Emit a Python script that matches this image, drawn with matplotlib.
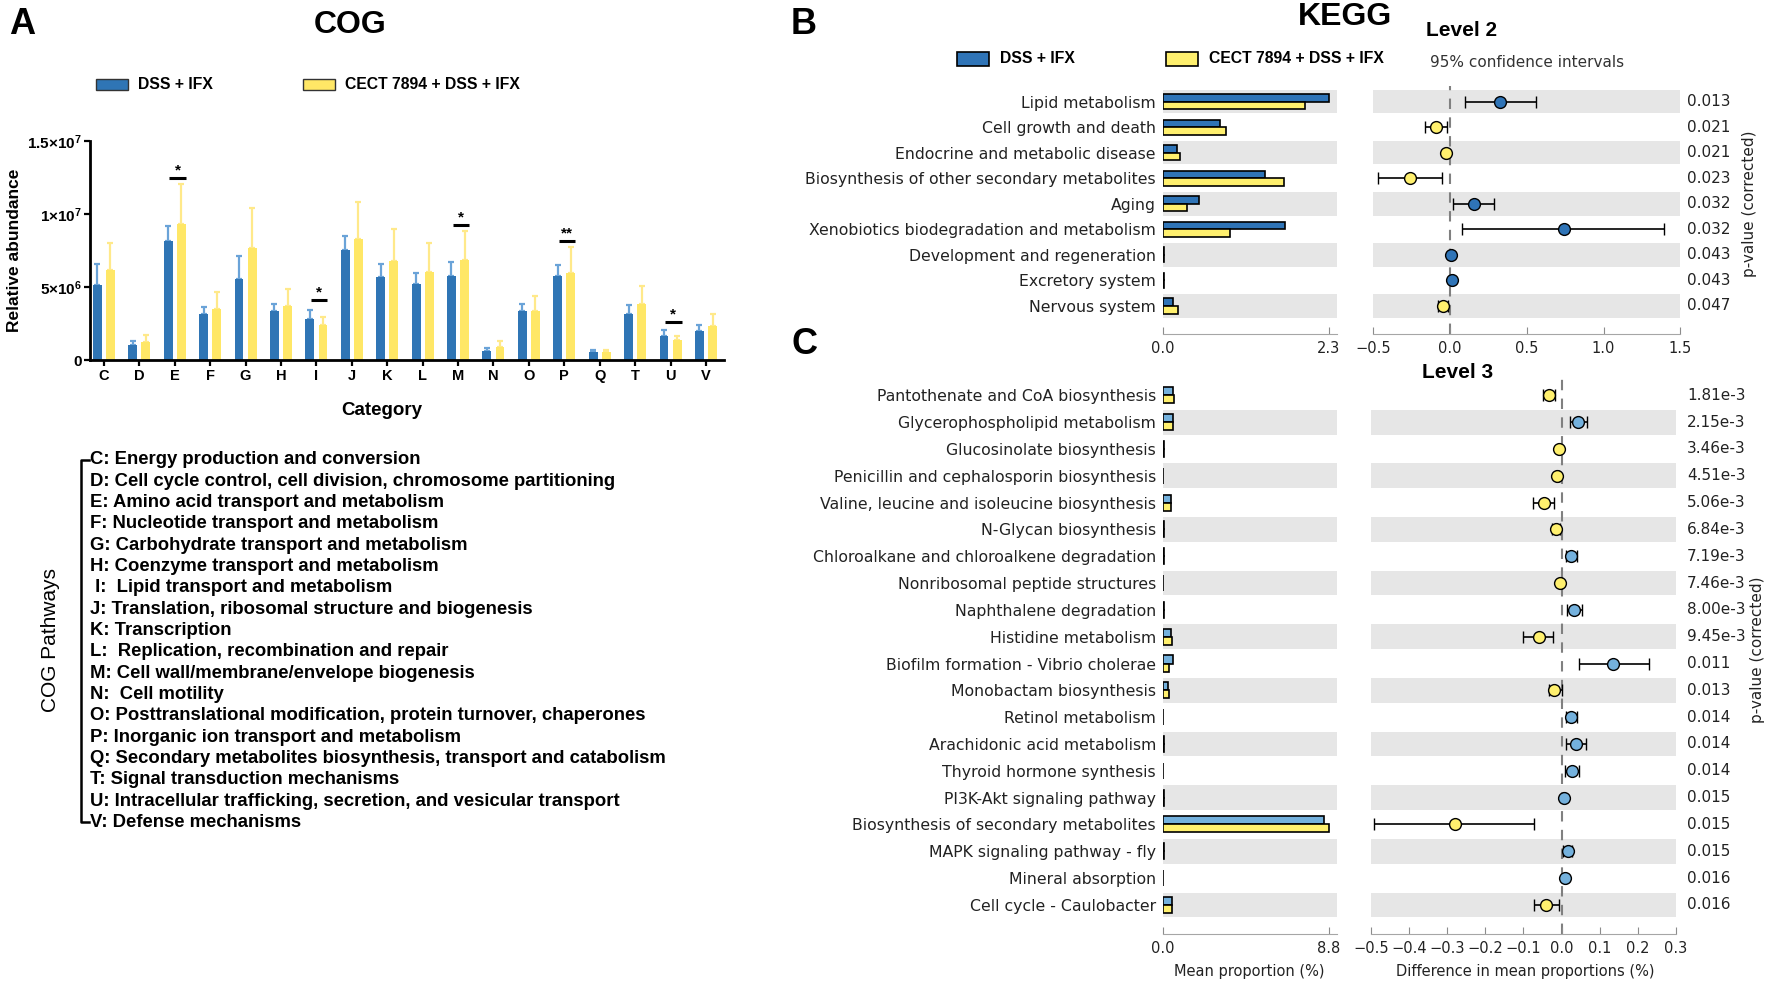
import numpy as np
import matplotlib

matplotlib.use("Agg")
import matplotlib.pyplot as plt
from matplotlib.patches import Rectangle
from matplotlib.lines import Line2D
import matplotlib.transforms as mtransforms

# positions below in a 1568x872 view
W, H = 1568.0, 872.0


def fx(x):
    return x / W


def fy(y):
    return 1 - y / H


ARIAL = ["Liberation Sans", "DejaVu Sans"]
plt.rcParams["mathtext.fontset"] = "custom"
plt.rcParams["mathtext.rm"] = "Liberation Sans:bold"
plt.rcParams["mathtext.bf"] = "Liberation Sans:bold"
plt.rcParams["mathtext.it"] = "Liberation Sans:bold:italic"

# ---------------- A: COG ----------------
cog_cats = list("CDEFGHIJKLMNOPQTUV")
cog_dss = [5.15e6, 1.08e6, 8.17e6, 3.18e6, 5.59e6, 3.41e6, 2.81e6, 7.52e6, 5.71e6,
           5.22e6, 5.75e6, 0.67e6, 3.41e6, 5.75e6, 0.60e6, 3.20e6, 1.70e6, 2.00e6]
cog_dss_sd = [1.43e6, 0.21e6, 1.01e6, 0.46e6, 1.57e6, 0.46e6, 0.64e6, 0.99e6, 0.89e6,
              0.74e6, 0.95e6, 0.18e6, 0.46e6, 0.81e6, 0.14e6, 0.60e6, 0.40e6, 0.40e6]
cog_cect = [6.19e6, 1.27e6, 9.34e6, 3.54e6, 7.69e6, 3.75e6, 2.39e6, 8.33e6, 6.81e6,
            6.07e6, 6.88e6, 0.90e6, 3.41e6, 6.00e6, 0.58e6, 3.89e6, 1.40e6, 2.35e6]
cog_cect_sd = [1.81e6, 0.46e6, 2.76e6, 1.15e6, 2.76e6, 1.15e6, 0.60e6, 2.53e6, 2.21e6,
               1.96e6, 1.98e6, 0.41e6, 0.96e6, 1.78e6, 0.11e6, 1.21e6, 0.30e6, 0.85e6]
# (category, mark, height of the bar line)
cog_sig = [("E", "*", 12.5e6), ("I", "*", 4.14e6), ("M", "*", 9.27e6),
           ("P", "**", 8.17e6), ("U", "*", 2.6e6)]
cog_yticks = [0, 5e6, 1e7, 1.5e7]
cog_yticklabels = ["0", r"5×10$^{6}$", r"1×10$^{7}$", r"1.5×10$^{7}$"]

cog_pathways = [
    "C: Energy production and conversion",
    "D: Cell cycle control, cell division, chromosome partitioning",
    "E: Amino acid transport and metabolism",
    "F: Nucleotide transport and metabolism",
    "G: Carbohydrate transport and metabolism",
    "H: Coenzyme transport and metabolism",
    " I:  Lipid transport and metabolism",
    "J: Translation, ribosomal structure and biogenesis",
    "K: Transcription",
    "L:  Replication, recombination and repair",
    "M: Cell wall/membrane/envelope biogenesis",
    "N:  Cell motility",
    "O: Posttranslational modification, protein turnover, chaperones",
    "P: Inorganic ion transport and metabolism",
    "Q: Secondary metabolites biosynthesis, transport and catabolism",
    "T: Signal transduction mechanisms",
    "U: Intracellular trafficking, secretion, and vesicular transport",
    "V: Defense mechanisms",
]

# ---------------- B: KEGG level 2 ----------------
l2_names = ["Lipid metabolism", "Cell growth and death", "Endocrine and metabolic disease",
            "Biosynthesis of other secondary metabolites", "Aging",
            "Xenobiotics biodegradation and metabolism", "Development and regeneration",
            "Excretory system", "Nervous system"]
l2_dss = [2.30, 0.79, 0.20, 1.42, 0.50, 1.69, 0.01, 0.01, 0.14]
l2_cect = [1.97, 0.87, 0.24, 1.68, 0.33, 0.93, 0.01, 0.01, 0.21]
l2_diff = [0.325, -0.09, -0.024, -0.257, 0.154, 0.739, 0.010, 0.012, -0.048]
l2_lo = [0.095, -0.16, -0.030, -0.466, 0.021, 0.081, 0.005, 0.007, -0.078]
l2_hi = [0.560, -0.02, -0.018, -0.050, 0.290, 1.394, 0.015, 0.017, -0.010]
l2_p = ["0.013", "0.021", "0.021", "0.023", "0.032", "0.032", "0.043", "0.043", "0.047"]

# ---------------- C: KEGG level 3 ----------------
l3_names = ["Pantothenate and CoA biosynthesis", "Glycerophospholipid metabolism",
            "Glucosinolate biosynthesis", "Penicillin and cephalosporin biosynthesis",
            "Valine, leucine and isoleucine biosynthesis", "N-Glycan biosynthesis",
            "Chloroalkane and chloroalkene degradation", "Nonribosomal peptide structures",
            "Naphthalene degradation", "Histidine metabolism",
            "Biofilm formation - Vibrio cholerae", "Monobactam biosynthesis",
            "Retinol metabolism", "Arachidonic acid metabolism", "Thyroid hormone synthesis",
            "PI3K-Akt signaling pathway", "Biosynthesis of secondary metabolites",
            "MAPK signaling pathway - fly", "Mineral absorption", "Cell cycle - Caulobacter"]
l3_dss = [0.55, 0.55, 0.05, 0.03, 0.45, 0.04, 0.08, 0.03, 0.07, 0.45,
          0.55, 0.25, 0.03, 0.06, 0.03, 0.05, 8.55, 0.05, 0.02, 0.50]
l3_cect = [0.58, 0.55, 0.05, 0.03, 0.45, 0.04, 0.07, 0.03, 0.06, 0.50,
           0.35, 0.30, 0.03, 0.05, 0.03, 0.05, 8.80, 0.05, 0.02, 0.50]
l3_diff = [-0.0335, 0.043, -0.006, -0.011, -0.046, -0.014, 0.025, -0.003, 0.0335, -0.060,
           0.136, -0.020, 0.024, 0.038, 0.027, 0.007, -0.280, 0.016, 0.010, -0.041]
l3_lo = [-0.049, 0.021, -0.009, -0.015, -0.074, -0.024, 0.011, -0.006, 0.014, -0.100,
         0.047, -0.033, 0.011, 0.013, 0.010, 0.004, -0.491, 0.005, 0.007, -0.071]
l3_hi = [-0.017, 0.066, -0.003, -0.007, -0.020, -0.004, 0.040, 0.000, 0.055, -0.022,
         0.229, 0.002, 0.040, 0.064, 0.047, 0.010, -0.072, 0.028, 0.013, -0.006]
l3_p = ["1.81e-3", "2.15e-3", "3.46e-3", "4.51e-3", "5.06e-3", "6.84e-3", "7.19e-3",
        "7.46e-3", "8.00e-3", "9.45e-3", "0.011", "0.013", "0.014", "0.014", "0.014",
        "0.015", "0.015", "0.015", "0.016", "0.016"]

# colours
A_BLUE, A_BLUE_ERR = "#2f75b5", "#6aa3d8"
A_YEL, A_YEL_ERR = "#ffe766", "#ffe98a"
B_BLUE, C_BLUE, K_YEL = "#2f74b7", "#74b1dd", "#fff06e"
BAND = "#e6e6e6"
TXT = "#222222"

fig = plt.figure(figsize=(17.72, 9.85), dpi=100)

# ---------- panel A ----------
ax = fig.add_axes([fx(80), fy(319), fx(641) - fx(80), fy(125) - fy(319)])
x = np.arange(len(cog_cats))
bw, off = 0.25, 0.185
ax.bar(x - off, cog_dss, bw, color=A_BLUE, zorder=2)
ax.bar(x + off, cog_cect, bw, color=A_YEL, zorder=2)
ax.errorbar(x - off, cog_dss, yerr=[np.zeros(len(x)), cog_dss_sd], fmt="none",
            ecolor=A_BLUE_ERR, elinewidth=1.6, capsize=2.5, capthick=1.6, zorder=1)
ax.errorbar(x + off, cog_cect, yerr=[np.zeros(len(x)), cog_cect_sd], fmt="none",
            ecolor=A_YEL_ERR, elinewidth=1.6, capsize=2.5, capthick=1.6, zorder=1)
for cat, mark, h in cog_sig:
    i = cog_cats.index(cat)
    ax.plot([i - 0.15, i + 0.31], [h, h], color="black", lw=2.2, solid_capstyle="butt")
    ax.text(i + 0.08, h + 0.05e6, mark, ha="center", va="bottom", fontsize=11,
            fontweight="bold", family=ARIAL)
ax.set_xlim(-0.38, 17.52)
ax.set_ylim(0, 1.5e7)
ax.set_xticks(x)
ax.set_xticklabels(cog_cats, fontsize=10.5, fontweight="bold", family=ARIAL)
ax.set_yticks(cog_yticks)
ax.set_yticklabels(cog_yticklabels, fontsize=11, fontweight="bold", family=ARIAL)
for s in ("top", "right"):
    ax.spines[s].set_visible(False)
for s in ("left", "bottom"):
    ax.spines[s].set_linewidth(2)
ax.tick_params(axis="both", width=1.6, length=4, pad=2)
ax.set_xlabel("Category", fontsize=13.5, fontweight="bold", family=ARIAL)
ax.xaxis.set_label_coords(0.46, -0.19)
ax.set_ylabel("Relative abundance", fontsize=12.5, fontweight="bold", family=ARIAL)
ax.yaxis.set_label_coords(-0.108, 0.5)

# legend A
for px, col, lab in [(85, A_BLUE, "DSS + IFX"), (268, A_YEL, "CECT 7894 + DSS + IFX")]:
    fig.add_artist(Rectangle((fx(px), fy(80)), fx(28), fy(70) - fy(80), transform=fig.transFigure,
                             facecolor=col, edgecolor="#333333", lw=1))
    fig.text(fx(px + 37), fy(75), lab, fontsize=11.3, fontweight="bold", family=ARIAL, va="center")

# COG pathway list with bracket
y_top, y_bot = 407, 728
step = (y_bot - y_top) / (len(cog_pathways) - 1)
for k, line in enumerate(cog_pathways):
    fig.text(fx(80), fy(y_top + k * step), line, fontsize=13.3, fontweight="bold",
             family=ARIAL, va="center")
fig.add_artist(Line2D([fx(79), fx(72), fx(72), fx(79)], [fy(y_top), fy(y_top), fy(y_bot), fy(y_bot)],
                      transform=fig.transFigure, color="black", lw=1.8))
fig.text(fx(45), fy(567), "COG Pathways", rotation=90, fontsize=15, family=ARIAL,
         ha="center", va="center")

fig.text(fx(8), fy(22), "A", fontsize=26, fontweight="bold", family=ARIAL, va="center")
fig.text(fx(310), fy(22), "COG", fontsize=23, fontweight="bold", family=ARIAL,
         ha="center", va="center")


# ---------- panels B and C (extended error bar plots) ----------
def minus_fmt(v, pos):
    if abs(v) < 1e-9:
        return "0.0"
    return ("%.1f" % v).replace("-", "\u2212")


def stamp_panel(names, dss, cect, diff, lo, hi, pvals, y_first, spacing, ci_left, ci_right,
                ci_lim, ci_ticks, blue):
    n = len(names)
    rows = np.arange(n)[::-1]
    ylo, yhi = -1.1, n - 1 + 0.6
    top = y_first - 0.6 * spacing
    bot = y_first + (n - 1 + 1.1) * spacing
    rect_y, rect_h = fy(bot), fy(top) - fy(bot)

    axb = fig.add_axes([fx(1029), rect_y, fx(1183) - fx(1029), rect_h])
    axc = fig.add_axes([fx(ci_left), rect_y, fx(ci_right) - fx(ci_left), rect_h])
    for a in (axb, axc):
        for r in rows:
            if r % 2 == 0:
                a.axhspan(r - 0.46, r + 0.46, color=BAND, lw=0, zorder=0)
        a.set_ylim(ylo, yhi)
        for s in ("top", "left", "right"):
            a.spines[s].set_visible(False)
        a.spines["bottom"].set_color("0.65")
        a.tick_params(axis="x", direction="in", color="0.55", length=5, labelsize=10.5,
                      labelcolor=TXT, pad=5)

    mx = max(max(dss), max(cect))
    axb.barh(rows + 0.15, dss, height=0.3, color=blue, edgecolor="black", lw=1.2, zorder=2)
    axb.barh(rows - 0.15, cect, height=0.3, color=K_YEL, edgecolor="black", lw=1.2, zorder=2)
    axb.set_xlim(0, mx * 1.05)
    axb.set_xticks([0, mx])
    axb.set_xticklabels(["0.0", f"{mx:.1f}"])
    axb.set_yticks(rows)
    axb.set_yticklabels(names, fontsize=11.3, color=TXT)
    axb.tick_params(axis="y", length=0, pad=5)

    axc.axvline(0, color="0.5", lw=1.5, ls=(0, (5, 4)), zorder=1)
    for r, d, l, h in zip(rows, diff, lo, hi):
        axc.errorbar(d, r, xerr=[[d - l], [h - d]], fmt="o", ms=8.5,
                     mfc=blue if d > 0 else K_YEL, mec="black", mew=1,
                     ecolor="black", elinewidth=1.2, capsize=4, capthick=1.2, zorder=3)
    axc.set_xlim(*ci_lim)
    axc.set_xticks(ci_ticks)
    axc.xaxis.set_major_formatter(matplotlib.ticker.FuncFormatter(minus_fmt))
    axc.set_yticks([])
    trans = mtransforms.blended_transform_factory(axc.transAxes, axc.transData)
    px = (1493 - ci_left) / (ci_right - ci_left)
    for r, p in zip(rows, pvals):
        axc.text(px, r, p, transform=trans, va="center", ha="left", fontsize=11, color=TXT)
    return axb, axc


axb2, axc2 = stamp_panel(l2_names, l2_dss, l2_cect, l2_diff, l2_lo, l2_hi, l2_p,
                         90, 22.6, 1215, 1487, (-0.5, 1.5), [-0.5, 0.0, 0.5, 1.0, 1.5], B_BLUE)
axb3, axc3 = stamp_panel(l3_names, l3_dss, l3_cect, l3_diff, l3_lo, l3_hi, l3_p,
                         350, 23.74, 1213, 1483, (-0.5, 0.3),
                         list(np.round(np.arange(-0.5, 0.31, 0.1), 1)), C_BLUE)

# legend B
for px, col, lab in [(847, B_BLUE, "DSS + IFX"), (1032, K_YEL, "CECT 7894 + DSS + IFX")]:
    fig.add_artist(Rectangle((fx(px), fy(58)), fx(28), fy(46) - fy(58), transform=fig.transFigure,
                             facecolor=col, edgecolor="black", lw=1.2))
    fig.text(fx(px + 38), fy(52), lab, fontsize=11.3, fontweight="bold", family=ARIAL, va="center")
fig.text(fx(1265), fy(55), "95% confidence intervals", fontsize=11, color="#333333", va="center")

fig.text(fx(700), fy(22), "B", fontsize=26, fontweight="bold", family=ARIAL, va="center")
fig.text(fx(700), fy(305), "C", fontsize=26, fontweight="bold", family=ARIAL, va="center")
fig.text(fx(1190), fy(15), "KEGG", fontsize=23, fontweight="bold", family=ARIAL,
         ha="center", va="center")
fig.text(fx(1293), fy(27), "Level 2", fontsize=15, fontweight="bold", family=ARIAL,
         ha="center", va="center")
fig.text(fx(1290), fy(330), "Level 3", fontsize=15, fontweight="bold", family=ARIAL,
         ha="center", va="center")

fig.text(fx(1548), fy(180), "p-value (corrected)", rotation=90, fontsize=11, color=TXT,
         ha="center", va="center")
fig.text(fx(1555), fy(575), "p-value (corrected)", rotation=90, fontsize=11, color=TXT,
         ha="center", va="center")
fig.text(fx(1105), fy(860), "Mean proportion (%)", fontsize=10.5, color=TXT,
         ha="center", va="center")
fig.text(fx(1350), fy(860), "Difference in mean proportions (%)", fontsize=10.5, color=TXT,
         ha="center", va="center")

fig.savefig("out.png", dpi=100)
plt.close(fig)
